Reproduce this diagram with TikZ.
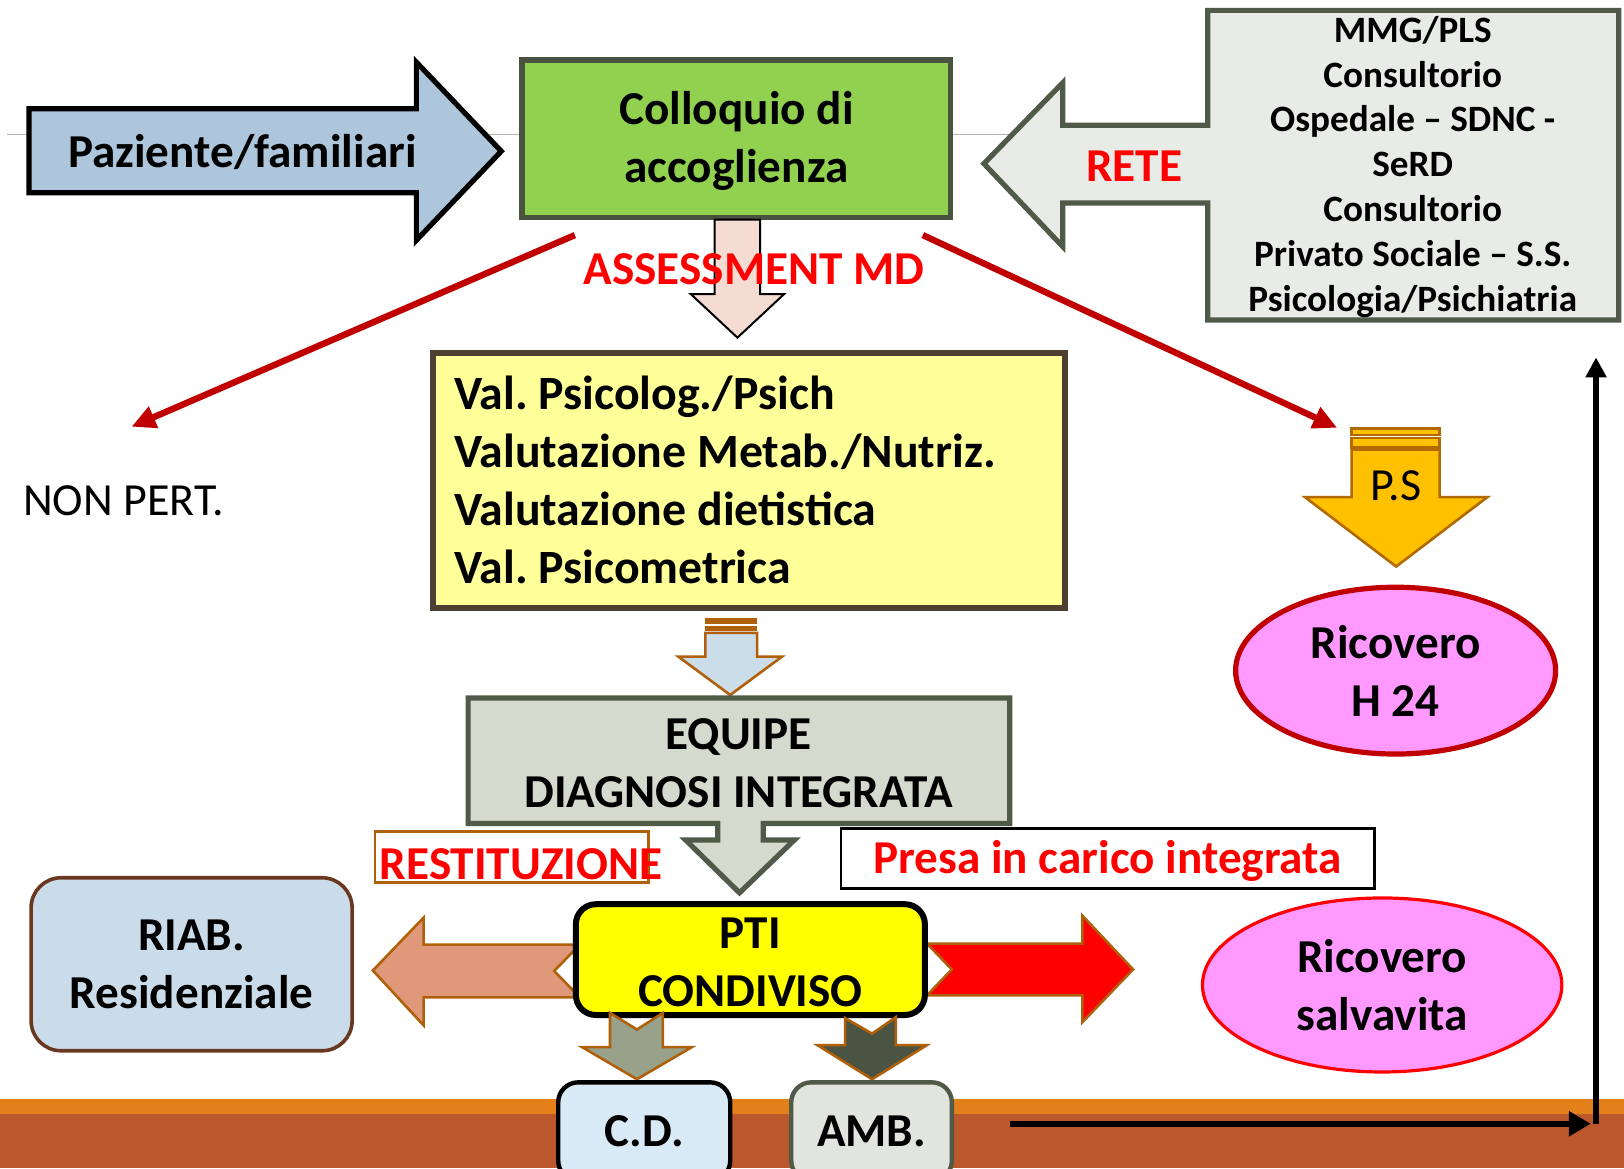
\documentclass[tikz,border=0pt]{standalone}
\usepackage{fontspec}
\setmainfont{Carlito}
\usetikzlibrary{arrows.meta,positioning,calc,shapes.geometric}
\definecolor{PazBlue}{RGB}{173,198,220}
\definecolor{CollGreen}{RGB}{146,208,80}
\definecolor{CollBorder}{RGB}{74,82,64}
\definecolor{ReteFill}{RGB}{233,235,230}
\definecolor{ReteBorder}{RGB}{80,90,72}
\definecolor{AssessPink}{RGB}{245,220,210}
\definecolor{DarkRed}{RGB}{192,0,0}
\definecolor{RedText}{RGB}{255,0,0}
\definecolor{ValYellow}{RGB}{255,255,153}
\definecolor{ValBorder}{RGB}{78,64,48}
\definecolor{PaleBlue}{RGB}{204,221,234}
\definecolor{ArrowBrown}{RGB}{176,96,10}
\definecolor{EquipeGray}{RGB}{213,218,207}
\definecolor{PtiYellow}{RGB}{255,255,0}
\definecolor{Salmon}{RGB}{224,152,122}
\definecolor{CdArrow}{RGB}{152,162,138}
\definecolor{AmbArrow}{RGB}{75,84,67}
\definecolor{CdFill}{RGB}{217,234,247}
\definecolor{AmbFill}{RGB}{226,229,221}
\definecolor{RiabFill}{RGB}{202,220,233}
\definecolor{RiabBorder}{RGB}{106,56,32}
\definecolor{PsOrange}{RGB}{255,192,0}
\definecolor{PsBorder}{RGB}{176,106,0}
\definecolor{RicPink}{RGB}{255,153,255}
\definecolor{BandOrange}{RGB}{228,128,26}
\definecolor{BandBrown}{RGB}{189,88,44}

\begin{document}
\frenchspacing
\begin{tikzpicture}[x=0.51786pt, y=-0.51786pt, line join=miter,
  bigtxt/.style={font=\fontsize{23.6}{29}\selectfont\bfseries, align=center, inner sep=0pt},
  retetxt/.style={font=\fontsize{18.6}{22.4}\selectfont\bfseries, align=center, inner sep=0pt},
  redtxt/.style={bigtxt, text=RedText},
  blockarrow/.style={draw=ArrowBrown, line width=1.3pt},
  ricovero/.style={ellipse, fill=RicPink, bigtxt}]
\useasboundingbox (0,0) rectangle (1568,1128);
\fill[BandOrange] (0,1061) rectangle (1568,1128);
\fill[BandBrown] (0,1076) rectangle (1568,1128);
\draw[gray!60, line width=0.7pt] (7,130) -- (1165,130);

\draw[fill=PazBlue, line width=2.6pt] (28,105) -- (402,105) -- (402,60) -- (484,146) -- (402,232) -- (402,186) -- (28,186) -- cycle;
\node[bigtxt] (paz) at (234,147) {Paziente/familiari};

\node[draw=CollBorder, fill=CollGreen, line width=2.6pt, minimum width=214.4pt, minimum height=78.7pt, bigtxt] (coll) at (711,134) {};
\node[bigtxt] (colltxt) at (711,136) {Colloquio di\\accoglienza};

\draw[fill=ReteFill, draw=ReteBorder, line width=2.6pt] (1166,10) -- (1563,10) -- (1563,309) -- (1166,309) -- (1166,196) -- (1026,196) -- (1026,238) -- (950,158) -- (1026,80) -- (1026,121) -- (1166,121) -- cycle;
\node[redtxt] (rete) at (1095,160) {RETE};
\node[retetxt] (retelist) at (1364,161) {MMG/PLS\\Consultorio\\Ospedale – SDNC -\\SeRD\\Consultorio\\Privato Sociale – S.S.\\Psicologia/Psichiatria};

\draw[fill=AssessPink, line width=1pt] (690,212) -- (734,212) -- (734,284) -- (757,284) -- (712,326) -- (667,284) -- (690,284) -- cycle;
\node[redtxt] (assess) at (728,260) {ASSESSMENT MD};

\coordinate (collSW) at (555,227);
\coordinate (collSE) at (891,227);
\coordinate (nptip) at (127,412);
\coordinate (pstip) at (1291,413);
\draw[DarkRed, line width=3.2pt, -{Triangle[length=12pt,width=11pt]}] (collSW) -- (nptip);
\draw[DarkRed, line width=3.2pt, -{Triangle[length=12pt,width=11pt]}] (collSE) -- (pstip);

\node[font=\fontsize{23}{28}\selectfont, anchor=west, inner sep=0pt] (nonpert) at (22,483) {NON PERT.};

\node[draw=ValBorder, fill=ValYellow, line width=3pt, minimum width=315.9pt, minimum height=127.4pt] (val) at (723,464) {};
\node[font=\fontsize{23.9}{29}\selectfont\bfseries, inner sep=0pt, align=left, anchor=west] (valtxt) at (438,463) {Val. Psicolog./Psich\\Valutazione Metab./Nutriz.\\Valutazione dietistica\\Val. Psicometrica};

\fill[ArrowBrown] (681,597) rectangle (731,602);
\fill[ArrowBrown] (681,604) rectangle (731,609);
\draw[blockarrow, fill=PaleBlue] (681,611) -- (731,611) -- (731,634) -- (755,634) -- (705,671) -- (655,634) -- (681,634) -- cycle;

\draw[fill=EquipeGray, draw=ReteBorder, line width=2.6pt] (452,674) -- (975,674) -- (975,795) -- (737,795) -- (737,811) -- (767,811) -- (714,862) -- (662,811) -- (693,811) -- (693,795) -- (452,795) -- cycle;
\node[bigtxt] (equipe) at (713,737) {EQUIPE\\DIAGNOSI INTEGRATA};

\node[draw=ArrowBrown, line width=1.2pt, minimum width=136.7pt, minimum height=25.4pt] (restbox) at (494,827.5) {};
\node[redtxt] (restit) at (503,834) {RESTITUZIONE};
\node[draw, line width=1.2pt, minimum width=266.7pt, minimum height=30pt, redtxt] (presa) at (1069.5,829) {};
\node[redtxt] (presatxt) at (1069.5,831) {Presa in carico integrata};

\draw[blockarrow, fill=Salmon] (560,912) -- (409,912) -- (409,886) -- (360,937) -- (409,990) -- (409,963) -- (560,963) -- (535,937.5) -- cycle;
\draw[blockarrow, fill=RedText] (895,911) -- (1045,911) -- (1045,884) -- (1094,936) -- (1045,987) -- (1045,961) -- (895,961) -- (919,936) -- cycle;

\node[draw, fill=PtiYellow, line width=3pt, rounded corners=10pt, minimum width=174.5pt, minimum height=55.4pt] (pti) at (724.5,926.5) {};
\node[bigtxt] (ptitxt) at (724.5,929) {PTI\\CONDIVISO};

\draw[blockarrow, fill=CdArrow] (589,978) -- (615,994) -- (640,978) -- (640,1011) -- (668,1011) -- (615,1042) -- (562,1011) -- (589,1011) -- cycle;
\draw[blockarrow, fill=AmbArrow] (816,983) -- (842,998) -- (865,982) -- (865,1009) -- (895,1009) -- (842,1042) -- (789,1009) -- (816,1009) -- cycle;

\node[draw, fill=CdFill, line width=2.2pt, rounded corners=10pt, minimum width=86pt, minimum height=49.2pt, bigtxt] (cd) at (622,1092.5) {C.D.};
\node[draw=ReteBorder, fill=AmbFill, line width=2.2pt, rounded corners=10pt, minimum width=80.3pt, minimum height=49.2pt, bigtxt] (amb) at (841.5,1092.5) {AMB.};

\node[draw=RiabBorder, fill=RiabFill, line width=1.8pt, rounded corners=15pt, minimum width=160.5pt, minimum height=86.5pt, bigtxt] (riab) at (185,931) {RIAB.\\Residenziale};

\draw[draw=PsBorder, fill=PsOrange, line width=1.3pt] (1305,414) rectangle (1390,420);
\draw[draw=PsBorder, fill=PsOrange, line width=1.3pt] (1305,423) rectangle (1390,432);
\draw[draw=PsBorder, fill=PsOrange, line width=1.3pt] (1305,434) -- (1390,434) -- (1390,480) -- (1436,480) -- (1348,547) -- (1260,480) -- (1305,480) -- cycle;
\node[font=\fontsize{23}{27}\selectfont, inner sep=0pt] (ps) at (1348,469) {P.S};

\node[ricovero, draw=DarkRed, line width=2.6pt, minimum width=160pt, minimum height=83.4pt] (ricH) at (1347.5,647.5) {Ricovero\\H 24};
\node[ricovero, draw=RedText, line width=1.6pt, minimum width=179.7pt, minimum height=87pt] (ricS) at (1334.5,951) {Ricovero\\salvavita};

\coordinate (loopstart) at (975,1085);
\coordinate (loopcorner) at (1541,1085);
\coordinate (loopend) at (1541,345);
\draw[line width=3pt, -{Triangle[length=11pt,width=12pt]}] (loopstart) -- ([xshift=-2.6pt]loopcorner);
\draw[line width=2.6pt, -{Triangle[length=10pt,width=10pt]}] (loopcorner) -- (loopend);
\end{tikzpicture}
\end{document}
